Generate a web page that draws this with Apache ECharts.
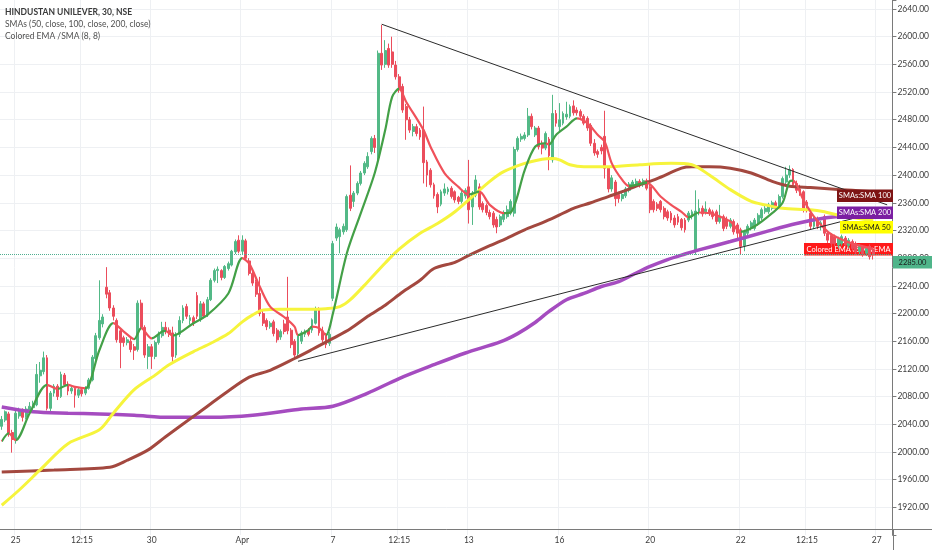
<!DOCTYPE html>
<html>
<head>
<meta charset="utf-8">
<title>HINDUSTAN UNILEVER, 30, NSE</title>
<script src="https://cdn.jsdelivr.net/npm/echarts@6/dist/echarts.min.js"></script>
<style>
  html, body { margin: 0; padding: 0; background: #fff; }
  #chart { width: 932px; height: 550px; }
</style>
</head>
<body>
<div id="chart"></div>
<script>
// trading days on screen (24 Mar is only its last 4 bars)
var days = ['03-24', '03-25', '03-26', '03-27', '03-30', '03-31', '04-01', '04-03', '04-07', '04-08',
            '04-09', '04-13', '04-15', '04-16', '04-17', '04-20', '04-21', '04-22', '04-23', '04-24'];
var sessionTimes = ['09:15', '09:45', '10:15', '10:45', '11:15', '11:45', '12:15',
                    '12:45', '13:15', '13:45', '14:15', '14:45', '15:15'];

// time axis labels
var tickCats = ['03-25 09:15', '03-26 12:15', '03-30 09:15', '04-01 09:15', '04-07 09:15', '04-08 12:15',
                '04-13 09:15', '04-16 09:15', '04-20 09:15', '04-22 09:15', '04-23 12:15', '04-27 09:15'];
var tickText = ['25', '12:15', '30', 'Apr', '7', '12:15', '13', '16', '20', '22', '12:15', '27'];

// 30 min bars: [open, close, low, high]
var candles = [
  // 24 Mar
  [2037, 2047, 2032, 2052], [2046, 2058, 2043, 2060], [2055, 2025, 2022, 2058], [2028, 2018, 1999, 2032],
  // 25 Mar
  [2018, 2056, 2012, 2060], [2052, 2060, 2048, 2064], [2060, 2050, 2044, 2063], [2050, 2062, 2047, 2066],
  [2060, 2066, 2056, 2072], [2064, 2070, 2060, 2074], [2068, 2112, 2066, 2127], [2110, 2118, 2100, 2130],
  [2116, 2136, 2112, 2145], [2136, 2063, 2060, 2140], [2063, 2085, 2055, 2088], [2085, 2095, 2080, 2098],
  [2095, 2080, 2075, 2098],
  // 26 Mar
  [2080, 2112, 2078, 2116], [2111, 2097, 2094, 2114], [2098, 2088, 2082, 2102], [2088, 2092, 2084, 2096],
  [2092, 2082, 2064, 2094], [2082, 2090, 2078, 2093], [2090, 2084, 2080, 2093], [2085, 2092, 2082, 2095],
  [2092, 2104, 2090, 2107], [2104, 2137, 2102, 2140], [2135, 2168, 2132, 2172], [2165, 2190, 2162, 2248],
  [2185, 2195, 2180, 2199],
  // 27 Mar
  [2238, 2228, 2222, 2267], [2230, 2208, 2204, 2234], [2208, 2196, 2190, 2212], [2190, 2162, 2158, 2193],
  [2175, 2158, 2121, 2178], [2165, 2158, 2152, 2168], [2158, 2162, 2154, 2166], [2160, 2148, 2144, 2165],
  [2152, 2147, 2133, 2156], [2148, 2215, 2145, 2219], [2215, 2180, 2176, 2220], [2180, 2140, 2136, 2183],
  [2138, 2152, 2120, 2156],
  // 30 Mar
  [2152, 2138, 2120, 2156], [2138, 2158, 2134, 2161], [2158, 2170, 2155, 2174], [2168, 2180, 2165, 2188],
  [2180, 2174, 2170, 2188], [2176, 2170, 2166, 2180], [2172, 2138, 2130, 2181], [2140, 2170, 2136, 2173],
  [2170, 2190, 2166, 2196], [2190, 2208, 2186, 2212], [2210, 2196, 2192, 2214], [2190, 2194, 2184, 2198],
  [2194, 2186, 2182, 2197],
  // 31 Mar
  [2226, 2196, 2192, 2231], [2192, 2214, 2188, 2218], [2214, 2196, 2193, 2217], [2198, 2220, 2195, 2224],
  [2220, 2248, 2218, 2251], [2248, 2262, 2245, 2265], [2262, 2264, 2244, 2268], [2262, 2252, 2248, 2264],
  [2252, 2268, 2250, 2270], [2265, 2272, 2262, 2275], [2270, 2290, 2268, 2292], [2289, 2304, 2286, 2307],
  [2306, 2290, 2287, 2313],
  // 1 Apr
  [2290, 2306, 2286, 2313], [2305, 2280, 2277, 2308], [2276, 2258, 2255, 2280], [2258, 2244, 2240, 2261],
  [2246, 2228, 2224, 2249], [2229, 2200, 2196, 2253], [2200, 2186, 2182, 2204], [2190, 2181, 2176, 2193],
  [2181, 2186, 2178, 2189], [2188, 2171, 2167, 2191], [2176, 2162, 2158, 2179], [2166, 2174, 2162, 2177],
  [2185, 2174, 2170, 2191],
  // 3 Apr
  [2195, 2175, 2170, 2253], [2176, 2155, 2150, 2179], [2160, 2140, 2136, 2163], [2142, 2168, 2137, 2171],
  [2160, 2172, 2156, 2175], [2170, 2174, 2166, 2177], [2176, 2170, 2167, 2179], [2176, 2191, 2172, 2193],
  [2186, 2207, 2184, 2210], [2206, 2172, 2168, 2209], [2175, 2162, 2158, 2181], [2170, 2155, 2150, 2172],
  [2157, 2170, 2153, 2173],
  // 7 Apr
  [2222, 2301, 2218, 2305], [2309, 2325, 2305, 2330], [2311, 2321, 2287, 2324], [2318, 2326, 2314, 2330],
  [2321, 2369, 2318, 2372], [2371, 2352, 2348, 2414], [2362, 2374, 2354, 2377], [2374, 2388, 2371, 2391],
  [2388, 2403, 2385, 2406], [2403, 2417, 2400, 2420], [2412, 2427, 2409, 2433], [2434, 2453, 2430, 2456],
  [2453, 2440, 2432, 2458],
  // 8 Apr
  [2425, 2576, 2420, 2580], [2576, 2559, 2552, 2617], [2560, 2580, 2555, 2595], [2583, 2559, 2555, 2590],
  [2578, 2560, 2555, 2600], [2559, 2542, 2538, 2565], [2542, 2523, 2519, 2546], [2528, 2494, 2490, 2532],
  [2499, 2480, 2451, 2503], [2480, 2465, 2461, 2484], [2463, 2470, 2456, 2474], [2470, 2460, 2456, 2474],
  [2465, 2455, 2451, 2468],
  // 9 Apr
  [2465, 2418, 2388, 2499], [2419, 2400, 2383, 2422], [2407, 2386, 2382, 2410], [2386, 2370, 2366, 2389],
  [2372, 2354, 2345, 2375], [2358, 2376, 2355, 2379], [2374, 2380, 2370, 2388], [2376, 2380, 2372, 2383],
  [2381, 2369, 2366, 2384], [2376, 2364, 2360, 2378], [2368, 2362, 2358, 2370], [2362, 2374, 2359, 2377],
  [2370, 2378, 2366, 2381],
  // 13 Apr
  [2383, 2350, 2330, 2422], [2354, 2374, 2328, 2377], [2371, 2393, 2368, 2400], [2383, 2354, 2350, 2388],
  [2359, 2350, 2346, 2362], [2356, 2346, 2342, 2359], [2346, 2340, 2336, 2350], [2345, 2328, 2324, 2348],
  [2336, 2325, 2316, 2340], [2328, 2340, 2325, 2343], [2336, 2346, 2332, 2349], [2340, 2350, 2337, 2356],
  [2345, 2362, 2342, 2365],
  // 15 Apr
  [2345, 2437, 2340, 2441], [2437, 2453, 2434, 2456], [2452, 2456, 2448, 2460], [2453, 2458, 2450, 2462],
  [2458, 2485, 2455, 2497], [2485, 2470, 2466, 2489], [2458, 2468, 2455, 2471], [2468, 2441, 2437, 2471],
  [2446, 2439, 2430, 2450], [2439, 2460, 2436, 2463], [2452, 2428, 2407, 2455], [2422, 2489, 2418, 2516],
  [2489, 2475, 2470, 2494],
  // 16 Apr
  [2470, 2480, 2462, 2504], [2475, 2489, 2472, 2492], [2484, 2488, 2480, 2506], [2485, 2499, 2482, 2502],
  [2500, 2490, 2486, 2508], [2494, 2490, 2486, 2498], [2492, 2485, 2481, 2495], [2485, 2475, 2472, 2488],
  [2482, 2468, 2464, 2485], [2472, 2446, 2442, 2475], [2446, 2432, 2428, 2452], [2434, 2430, 2425, 2437],
  [2440, 2435, 2430, 2444],
  // 17 Apr
  [2456, 2410, 2395, 2493], [2410, 2380, 2375, 2413], [2380, 2396, 2376, 2400], [2390, 2366, 2355, 2393],
  [2372, 2366, 2360, 2376], [2366, 2372, 2362, 2375], [2370, 2380, 2367, 2383], [2378, 2387, 2375, 2390],
  [2383, 2390, 2380, 2393], [2385, 2391, 2382, 2395], [2391, 2386, 2382, 2394], [2386, 2392, 2383, 2395],
  [2392, 2381, 2378, 2395],
  // 20 Apr
  [2383, 2350, 2345, 2415], [2362, 2350, 2346, 2365], [2358, 2352, 2348, 2361], [2362, 2350, 2346, 2364],
  [2352, 2340, 2336, 2355], [2347, 2338, 2334, 2350], [2345, 2335, 2331, 2348], [2338, 2328, 2324, 2342],
  [2340, 2332, 2328, 2344], [2336, 2324, 2320, 2338], [2335, 2321, 2317, 2338], [2335, 2345, 2332, 2348],
  [2340, 2347, 2336, 2350],
  // 21 Apr
  [2292, 2348, 2285, 2378], [2347, 2352, 2342, 2365], [2352, 2344, 2340, 2356], [2347, 2351, 2343, 2362],
  [2350, 2345, 2341, 2353], [2347, 2340, 2336, 2350], [2347, 2333, 2329, 2350], [2333, 2340, 2330, 2357],
  [2340, 2323, 2319, 2343], [2336, 2326, 2322, 2340], [2326, 2335, 2323, 2338], [2333, 2318, 2314, 2336],
  [2328, 2316, 2308, 2331],
  // 22 Apr
  [2321, 2297, 2285, 2324], [2298, 2318, 2290, 2321], [2316, 2326, 2312, 2329], [2323, 2331, 2320, 2334],
  [2323, 2335, 2320, 2338], [2330, 2342, 2327, 2345], [2338, 2350, 2335, 2353], [2347, 2352, 2344, 2356],
  [2347, 2357, 2344, 2360], [2352, 2360, 2349, 2363], [2360, 2352, 2348, 2363], [2355, 2369, 2352, 2372],
  [2369, 2395, 2366, 2398],
  // 23 Apr
  [2390, 2400, 2386, 2412], [2400, 2408, 2396, 2414], [2408, 2386, 2383, 2410], [2388, 2378, 2374, 2392],
  [2380, 2374, 2370, 2386], [2376, 2350, 2346, 2378], [2361, 2350, 2346, 2364], [2345, 2326, 2322, 2348],
  [2326, 2336, 2322, 2340], [2336, 2326, 2322, 2340], [2325, 2331, 2320, 2334], [2340, 2316, 2312, 2343],
  [2316, 2306, 2302, 2319],
  // 24 Apr
  [2313, 2301, 2296, 2316], [2311, 2301, 2297, 2314], [2299, 2308, 2294, 2311], [2301, 2311, 2298, 2314],
  [2309, 2299, 2295, 2312], [2298, 2306, 2294, 2309], [2304, 2294, 2290, 2307], [2301, 2289, 2285, 2304],
  [2290, 2297, 2286, 2300], [2296, 2286, 2282, 2299], [2287, 2294, 2283, 2297], [2297, 2282, 2278, 2300],
  [2292, 2285, 2278, 2296]
];
var lastPrice = 2285;

// indicator lines: [bar index, value]
var ema8 = [
  [0, 2015], [2, 2027], [4, 2017], [8, 2056], [13, 2097], [16, 2091], [19, 2097], [21, 2094], [24, 2092],
  [28, 2147], [32, 2186], [35, 2174], [38, 2163], [40, 2179], [43, 2164], [46, 2174], [47, 2175], [49, 2168],
  [55, 2186], [59, 2198], [65, 2229], [69, 2280], [71, 2272], [74, 2239], [77, 2210], [81, 2195], [84, 2181],
  [85, 2169], [88, 2176], [89, 2181], [91, 2179], [93, 2169], [95, 2200], [99, 2287], [103, 2345], [107, 2403],
  [110, 2465], [112, 2513], [114, 2525], [116, 2506], [121, 2465], [123, 2441], [127, 2403], [131, 2383],
  [134, 2372], [137, 2376], [140, 2357], [144, 2345], [146, 2346], [150, 2407], [153, 2441], [156, 2446],
  [157, 2444], [159, 2458], [162, 2470], [165, 2482], [168, 2475], [171, 2458], [173, 2448], [175, 2417],
  [178, 2393], [180, 2384], [185, 2389], [189, 2369], [192, 2357], [195, 2347], [197, 2339], [200, 2346],
  [203, 2345], [206, 2340], [209, 2333], [212, 2318], [216, 2326], [221, 2345], [224, 2360], [226, 2391],
  [227, 2392], [230, 2364], [233, 2340], [237, 2318], [240, 2309], [244, 2301], [248, 2296], [250, 2293]
];
var sma50 = [
  [0, 1923], [5, 1945], [11, 1974], [19, 2012], [28, 2032], [32, 2056], [38, 2090], [44, 2111], [48, 2126],
  [55, 2145], [60, 2157], [65, 2171], [69, 2188], [72, 2198], [75, 2205], [80, 2206], [88, 2206], [93, 2207],
  [97, 2210], [100, 2220], [105, 2246], [110, 2273], [114, 2293], [120, 2316], [125, 2330], [130, 2347],
  [135, 2369], [140, 2391], [144, 2405], [150, 2417], [155, 2423], [158, 2424], [160, 2422], [163, 2415],
  [167, 2412], [174, 2412], [183, 2415], [192, 2417], [198, 2415], [203, 2400], [209, 2379], [215, 2362],
  [219, 2357], [224, 2352], [232, 2350], [236, 2347], [240, 2342], [245, 2338], [250, 2334]
];
var sma100 = [
  [0, 1971], [15, 1974], [31, 1978], [36, 1988], [42, 2003], [47, 2022], [56, 2055], [65, 2088], [71, 2108],
  [77, 2118], [84, 2135], [89, 2148], [95, 2164], [100, 2178], [105, 2196], [110, 2212], [115, 2231],
  [120, 2248], [124, 2265], [130, 2274], [134, 2284], [140, 2298], [145, 2309], [150, 2321], [155, 2331],
  [159, 2340], [164, 2352], [169, 2360], [174, 2369], [178, 2376], [183, 2386], [188, 2395], [195, 2410],
  [198, 2412], [203, 2412], [209, 2410], [215, 2403], [221, 2391], [226, 2384], [232, 2382], [238, 2380],
  [244, 2378], [250, 2376]
];
var sma200 = [
  [0, 2065], [9, 2058], [19, 2056], [28, 2055], [38, 2053], [48, 2050], [60, 2050], [72, 2053], [86, 2062],
  [95, 2066], [105, 2085], [114, 2106], [124, 2126], [133, 2143], [143, 2159], [148, 2171], [153, 2187],
  [157, 2203], [162, 2220], [167, 2229], [172, 2239], [177, 2246], [181, 2256], [186, 2268], [191, 2278],
  [196, 2286], [200, 2292], [209, 2304], [219, 2318], [228, 2330], [236, 2338], [242, 2341], [250, 2343]
];
// hand drawn triangle
var supportLine = [[85, 2131], [244, 2337]];
var resistLine = [[109, 2618], [254, 2357]];

var categories = [];
days.forEach(function (d, k) {
    var times = k === 0 ? sessionTimes.slice(9) : sessionTimes;
    times.forEach(function (t) { categories.push(d + ' ' + t); });
});
// empty room on the right (27 Apr)
sessionTimes.slice(0, 5).forEach(function (t) { categories.push('04-27 ' + t); });

var upColor = '#53b987';
var downColor = '#eb4d5c';
var font = 'Lato, "Open Sans", sans-serif';

// EMA is green while rising, red while falling
var emaPieces = [];
for (var k = 1; k < ema8.length; k++) {
    var piece = { gte: ema8[k - 1][0], color: ema8[k][1] >= ema8[k - 1][1] ? '#43a047' : '#f0515a' };
    if (k === ema8.length - 1) piece.lte = ema8[k][0]; else piece.lt = ema8[k][0];
    emaPieces.push(piece);
}

function isTick(idx, value) {
    return tickCats.indexOf(value) >= 0;
}

function label(x, y, w, text, bg, fg, z) {
    return {
        type: 'group', z: z,
        children: [
            { type: 'rect', z: z, shape: { x: x, y: y, width: w, height: 12.5 }, style: { fill: bg } },
            { type: 'text', z: z + 1, x: x + w / 2, y: y + 6.5,
              style: { text: text, fill: fg, font: '7.5px ' + font, align: 'center', verticalAlign: 'middle' } }
        ]
    };
}

var option = {
    animation: false,
    backgroundColor: '#ffffff',
    grid: { left: 0, right: 39, top: 0, bottom: 15 },
    xAxis: {
        type: 'category',
        data: categories,
        boundaryGap: true,
        offset: -6,
        axisLine: { lineStyle: { color: '#7a7a7a' } },
        axisTick: { interval: isTick, alignWithLabel: true, length: 4, lineStyle: { color: '#7a7a7a' } },
        axisLabel: {
            interval: isTick, margin: 7, fontSize: 8.5, color: '#3c3c3c', fontFamily: font,
            formatter: function (v) { return tickText[tickCats.indexOf(v)]; }
        },
        splitLine: { show: true, interval: isTick, lineStyle: { color: '#eef0f3' } }
    },
    yAxis: {
        type: 'value',
        position: 'right',
        min: 1880,
        max: 2653,
        interval: 40,
        axisLine: { show: true, lineStyle: { color: '#7a7a7a' } },
        axisTick: { show: true, length: 4, lineStyle: { color: '#7a7a7a' } },
        axisLabel: {
            margin: 5, fontSize: 8.5, color: '#3c3c3c', fontFamily: font,
            formatter: function (v) { return v < 1900 || v > 2650 ? '' : v.toFixed(2); }
        },
        splitLine: { show: true, showMinLine: false, showMaxLine: false, lineStyle: { color: '#eef0f3' } }
    },
    visualMap: {
        show: false,
        type: 'piecewise',
        seriesIndex: 4,
        dimension: 0,
        pieces: emaPieces,
        outOfRange: { color: '#f0515a' }
    },
    series: [
        {
            name: 'HUL', type: 'candlestick', z: 3,
            data: candles,
            barWidth: '68%',
            itemStyle: { color: upColor, color0: downColor, borderColor: upColor, borderColor0: downColor, borderWidth: 1 },
            markLine: {
                silent: true, symbol: ['none', 'none'],
                label: { show: false },
                lineStyle: { type: 'dotted', color: '#4fae90', width: 1 },
                data: [{ yAxis: lastPrice }]
            }
        },
        { name: 'SMA 200', type: 'line', z: 4, data: sma200, smooth: 0.3, showSymbol: false,
          lineStyle: { color: '#a54cc0', width: 3.5 } },
        { name: 'SMA 100', type: 'line', z: 4, data: sma100, smooth: 0.3, showSymbol: false,
          lineStyle: { color: '#a3483f', width: 3 } },
        { name: 'SMA 50', type: 'line', z: 4, data: sma50, smooth: 0.3, showSymbol: false,
          lineStyle: { color: '#f6f43c', width: 3 } },
        { name: 'EMA', type: 'line', z: 5, data: ema8, smooth: 0.3, showSymbol: false,
          lineStyle: { width: 2.2 } },
        { name: 'support', type: 'line', z: 5, data: supportLine, showSymbol: false, silent: true,
          lineStyle: { color: '#2b2b2b', width: 1 } },
        { name: 'resistance', type: 'line', z: 5, data: resistLine, showSymbol: false, silent: true,
          lineStyle: { color: '#2b2b2b', width: 1 } }
    ],
    graphic: [
        { type: 'text', left: 5, top: 8, z: 20,
          style: { text: 'HINDUSTAN UNILEVER, 30, NSE', fill: '#3a3a3a', font: 'bold 8.5px ' + font } },
        { type: 'text', left: 5, top: 20, z: 20,
          style: { text: 'SMAs (50, close, 100, close, 200, close)', fill: '#505050', font: '8.5px ' + font } },
        { type: 'text', left: 5, top: 32, z: 20,
          style: { text: 'Colored EMA /SMA (8, 8)', fill: '#505050', font: '8.5px ' + font } },
        label(804, 243, 89, 'Colored EMA /SMA:EMA', '#ff1a1a', '#ffffff', 1),
        label(837, 189.5, 56, 'SMAs:SMA 100', '#7e1414', '#ffffff', 20),
        label(837, 206.5, 56, 'SMAs:SMA 200', '#7b1fa2', '#ffffff', 20),
        label(840, 221, 53, 'SMAs:SMA 50', '#ffff00', '#1a1a1a', 20),
        label(893, 256, 39, '2285.00', '#4fb58a', '#1a1a1a', 20),
        { type: 'line', z: 20, shape: { x1: 893.5, y1: 529, x2: 893.5, y2: 550 }, style: { stroke: '#7a7a7a' } },
        { type: 'line', z: 20, shape: { x1: 893, y1: 529.5, x2: 932, y2: 529.5 }, style: { stroke: '#7a7a7a' } }
    ]
};

var chart = echarts.init(document.getElementById('chart'));
chart.setOption(option);
</script>
</body>
</html>
